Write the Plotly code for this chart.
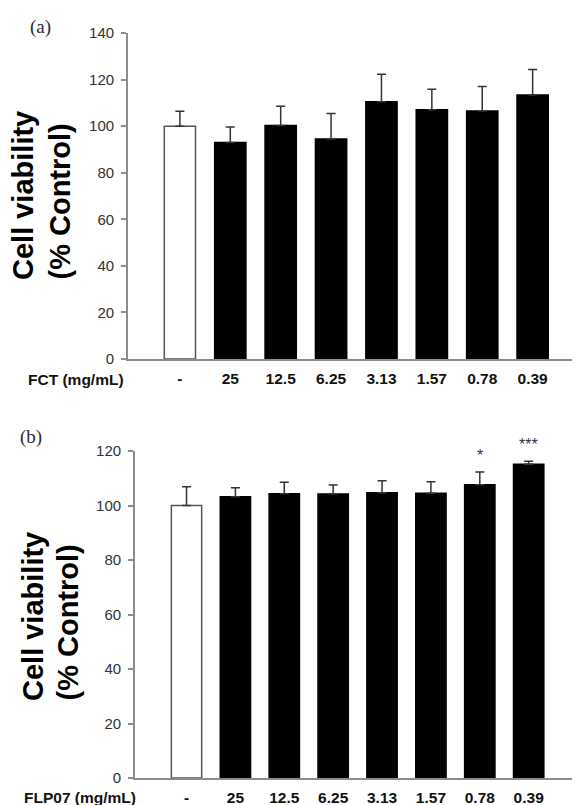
import plotly.graph_objects as go

# ---- data ----
doses = ["-", "25", "12.5", "6.25", "3.13", "1.57", "0.78", "0.39"]
fct_values = [100.0, 93.0, 100.3, 94.5, 110.5, 107.0, 106.5, 113.4]
fct_errors = [6.4, 6.6, 8.2, 10.9, 11.8, 8.8, 10.5, 10.9]
flp_values = [100.0, 103.2, 104.3, 104.2, 104.7, 104.5, 107.6, 115.1]
flp_errors = [6.9, 3.3, 4.2, 3.3, 4.4, 4.2, 4.7, 1.1]
flp_signif = ["", "", "", "", "", "", "*", "***"]
y_ticks_a = [0, 20, 40, 60, 80, 100, 120, 140]
y_ticks_b = [0, 20, 40, 60, 80, 100, 120]

W, H = 580, 805
OFF = 8  # page body margin
def px(x):
    return (x - OFF) / W
def py(y):
    return 1 - (y - OFF) / H

idx = list(range(len(doses)))
bar_colors = ["white"] + ["black"] * (len(doses) - 1)
line_colors = ["#555555"] + ["black"] * (len(doses) - 1)

fig = go.Figure()
for vals, errs, xa, ya in [(fct_values, fct_errors, "x", "y"), (flp_values, flp_errors, "x2", "y2")]:
    fig.add_trace(go.Bar(
        x=idx, y=vals, xaxis=xa, yaxis=ya,
        marker=dict(color=bar_colors, line=dict(color=line_colors, width=1.5)),
        error_y=dict(type="data", symmetric=False, array=errs, arrayminus=[0] * len(errs),
                     color="#333333", thickness=1.5, width=4.5),
        showlegend=False,
    ))

tickfont_y = dict(family="Liberation Sans, Arial", size=15, color="#333333")
tickfont_x = dict(family="Liberation Sans, Arial", size=15.5, color="#111111")

common_x = dict(tickmode="array", tickvals=idx, ticktext=["<b>%s</b>" % d for d in doses],
                showline=True, linecolor="#8c8c8c", linewidth=1.8, ticks="",
                showgrid=False, zeroline=False, tickfont=tickfont_x, automargin=False,
                ticklabelstandoff=4)
common_y = dict(showline=True, linecolor="#8c8c8c", linewidth=1.8, ticks="outside",
                ticklen=5, tickcolor="#8c8c8c", tickwidth=1.5, showgrid=False,
                zeroline=False, tickfont=tickfont_y, automargin=False, ticklabelstandoff=4)

fig.update_layout(
    width=W, height=H,
    margin=dict(l=0, r=0, t=0, b=0),
    paper_bgcolor="white", plot_bgcolor="white",
    bargap=0.38,
    xaxis=dict(domain=[px(128), px(580)], range=[-1.03, 7.94], anchor="y", **common_x),
    yaxis=dict(domain=[py(359), py(33)], range=[0, 140], anchor="x",
               tickvals=y_ticks_a, **common_y),
    xaxis2=dict(domain=[px(135), px(580)], range=[-1.054, 8.05], anchor="y2", **common_x),
    yaxis2=dict(domain=[py(778), py(451)], range=[0, 120], anchor="x2",
                tickvals=y_ticks_b, **common_y),
)

title_font = dict(family="Liberation Sans, Arial", size=29, color="black")
panel_font = dict(family="Liberation Serif, Times New Roman", size=19, color="#2b2b3b")
anns = []
# panel labels
anns.append(dict(text="(a)", x=px(40), y=py(27), xref="paper", yref="paper", showarrow=False,
                 xanchor="center", yanchor="middle", font=panel_font))
anns.append(dict(text="(b)", x=px(31), y=py(437), xref="paper", yref="paper", showarrow=False,
                 xanchor="center", yanchor="middle", font=panel_font))
# y titles (two lines each)
for (xc1, xc2, ybot) in [(22.5, 59.5, 282), (32.5, 67.5, 703)]:
    anns.append(dict(text="<b>Cell viability</b>", textangle=-90, x=px(xc1), y=py(ybot),
                     xref="paper", yref="paper", xanchor="center", yanchor="bottom",
                     showarrow=False, font=title_font))
    anns.append(dict(text="<b>(% Control)</b>", textangle=-90, x=px(xc2), y=py(ybot),
                     xref="paper", yref="paper", xanchor="center", yanchor="bottom",
                     showarrow=False, font=title_font))
# x axis names
anns.append(dict(text="<b>FCT (mg/mL)</b>", x=px(126), y=py(379), xref="paper", yref="paper",
                 xanchor="right", yanchor="middle", showarrow=False, font=tickfont_x))
anns.append(dict(text="<b>FLP07 (mg/mL)</b>", x=px(138), y=py(797), xref="paper", yref="paper",
                 xanchor="right", yanchor="middle", showarrow=False, font=tickfont_x))
# significance marks
for i, s in enumerate(flp_signif):
    if s:
        anns.append(dict(text=s, x=i, y=flp_values[i] + flp_errors[i], xref="x2", yref="y2",
                         xanchor="center", yanchor="bottom", yshift=6, showarrow=False,
                         font=dict(family="Liberation Sans, Arial", size=16, color="#333344")))
fig.update_layout(annotations=anns)

fig.write_html("out.html")
